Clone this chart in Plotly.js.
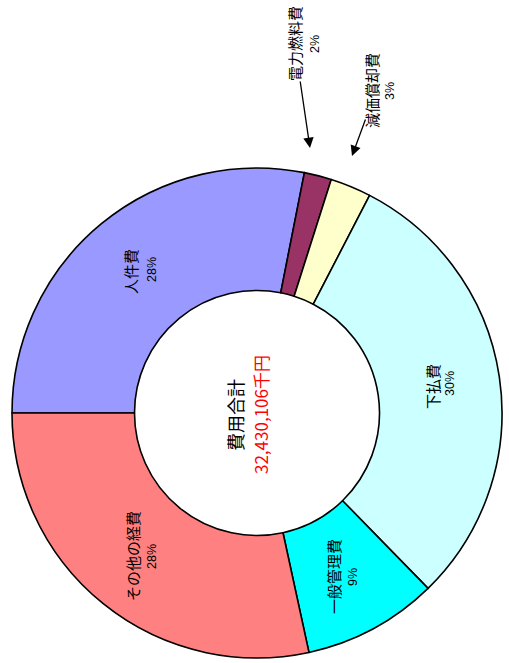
<!DOCTYPE html>
<html>
<head>
<meta charset="utf-8">
<script src="https://cdn.plot.ly/plotly-3.0.1.min.js"></script>
<style>
html,body{margin:0;padding:0;background:#fff;}
#chart{width:509px;height:663px;}
</style>
</head>
<body>
<div id="chart"></div>
<script>
// Data (shares of total cost, %)
const categories = ["人件費", "電力燃料費", "減価償却費", "下払費", "一般管理費", "その他の経費"];
const shares = [28.1, 1.8, 2.7, 30.1, 8.9, 28.4];
const totalTitle = "費用合計";
const totalText = "32,430,106千円";

// Styling / placement (pixel positions of rotated labels)
const colors = ["#9999FF", "#993366", "#FFFFCC", "#CCFFFF", "#00FFFF", "#FF8080"];
const labelPos = [[130, 272], [295, 44], [372, 91], [432, 387], [333, 577], [132, 556]];
const pctPos = [[152, 270], [315, 44], [390, 91], [450, 384], [353, 577], [152, 557]];

const W = 509, H = 663;
const px = x => x / W;
const py = y => 1 - y / H;

const sum = shares.reduce((a, b) => a + b, 0);
const annotations = [];
categories.forEach((c, i) => {
  annotations.push({
    xref: 'paper', yref: 'paper', x: px(labelPos[i][0]), y: py(labelPos[i][1]),
    text: c, showarrow: false, textangle: -90, xanchor: 'center', yanchor: 'middle',
    font: {family: 'Noto Sans CJK JP', size: 15, color: '#000'}
  });
  annotations.push({
    xref: 'paper', yref: 'paper', x: px(pctPos[i][0]), y: py(pctPos[i][1]),
    text: Math.round(shares[i] / sum * 100) + '%', showarrow: false, textangle: -90,
    xanchor: 'center', yanchor: 'middle',
    font: {family: 'Liberation Sans Narrow, Liberation Sans, Arial', size: 12.5, color: '#000'}
  });
});
// arrows for the small slices
annotations.push({
  xref: 'paper', yref: 'paper', x: px(310), y: py(148), text: '', showarrow: true,
  ax: -10, ay: -68, arrowhead: 2, arrowsize: 1.6, arrowwidth: 1.3, arrowcolor: '#000', standoff: 0
});
annotations.push({
  xref: 'paper', yref: 'paper', x: px(352), y: py(156), text: '', showarrow: true,
  ax: 14, ay: -38, arrowhead: 2, arrowsize: 1.6, arrowwidth: 1.3, arrowcolor: '#000', standoff: 0
});
// center text
annotations.push({
  xref: 'paper', yref: 'paper', x: px(235), y: py(415), text: totalTitle, showarrow: false,
  textangle: -90, xanchor: 'center', yanchor: 'middle',
  font: {family: 'Noto Sans CJK JP', size: 18, color: '#000'}
});
annotations.push({
  xref: 'paper', yref: 'paper', x: px(260), y: py(415), text: totalText, showarrow: false,
  textangle: -90, xanchor: 'center', yanchor: 'middle',
  font: {family: 'Noto Sans CJK JP', size: 17, color: '#FF0000'}
});

const trace = {
  type: 'pie',
  labels: categories,
  values: shares,
  sort: false,
  direction: 'clockwise',
  rotation: -90,
  hole: 0.5,
  textinfo: 'none',
  hoverinfo: 'none',
  marker: {colors: colors, line: {color: '#000', width: 1.6}},
  domain: {x: [12 / W, 502 / W], y: [1 - 658 / H, 1 - 168 / H]},
  showlegend: false
};

const layout = {
  width: W, height: H,
  margin: {l: 0, r: 0, t: 0, b: 0},
  paper_bgcolor: '#fff',
  plot_bgcolor: '#fff',
  showlegend: false,
  annotations: annotations
};

Plotly.newPlot('chart', [trace], layout, {displayModeBar: false, staticPlot: true});
</script>
</body>
</html>
